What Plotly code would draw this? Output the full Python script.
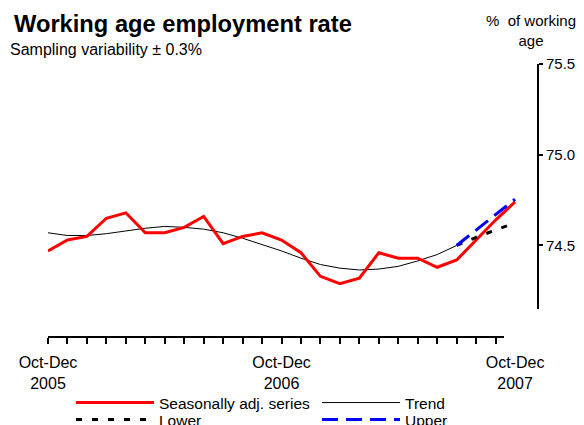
import plotly.graph_objects as go

# ---- data ----
tick_positions = [0, 12, 24]
tick_labels = ["Oct-Dec<br>2005", "Oct-Dec<br>2006", "Oct-Dec<br>2007"]

sa_x = list(range(0, 25))
sa_values = [74.47, 74.53, 74.55, 74.65, 74.68, 74.57, 74.57, 74.60, 74.66,
             74.51, 74.55, 74.57, 74.53, 74.46, 74.33, 74.29, 74.32, 74.46,
             74.43, 74.43, 74.38, 74.42, 74.53, 74.64, 74.74]

trend_x = list(range(0, 22))
trend_values = [74.57, 74.555, 74.555, 74.565, 74.58, 74.595, 74.605, 74.60,
                74.59, 74.57, 74.54, 74.505, 74.47, 74.43, 74.395, 74.375,
                74.365, 74.37, 74.385, 74.415, 74.45, 74.50]

band_x = [21, 22, 23, 24]
lower_values = [74.50, 74.545, 74.585, 74.625]
upper_values = [74.50, 74.585, 74.67, 74.755]

minor_tick_positions = list(range(0, 24))

FONT = "Liberation Sans, Arial, sans-serif"

# The page body has an 8px margin, so the figure is drawn 8px smaller and
# all reference (screen) pixel positions are shifted by OFF.
OFF = 8
W, H = 584 - OFF, 425 - OFF
L, R, T, B = 40, 47, 56, 88
PW = W - L - R
PH = H - T - B


def px(xs):
    return (xs - OFF - L) / PW


def py(ys):
    return (H - B - (ys - OFF)) / PH


fig = go.Figure()

fig.add_trace(go.Scatter(x=trend_x, y=trend_values, mode="lines", name="Trend",
                         line=dict(color="black", width=1), legendrank=2,
                         legend="legend"))
fig.add_trace(go.Scatter(x=sa_x, y=sa_values, mode="lines",
                         name="Seasonally adj. series",
                         line=dict(color="#FF0000", width=3), legendrank=1,
                         legend="legend"))
fig.add_trace(go.Scatter(x=band_x, y=lower_values, mode="lines", name="Lower",
                         line=dict(color="black", width=3, dash="6px,10px"),
                         legendrank=3, legend="legend2"))
fig.add_trace(go.Scatter(x=band_x, y=upper_values, mode="lines", name="Upper",
                         line=dict(color="#0000FF", width=3, dash="16px,8px"),
                         legendrank=4, legend="legend2"))
# carrier trace for the tick-mark axis
fig.add_trace(go.Scatter(x=[0], y=[None], xaxis="x2", yaxis="y", mode="lines",
                         showlegend=False, hoverinfo="skip"))

x_max = PW / 19.46
x2_dom = (504 - OFF - L) / PW

legend_common = dict(orientation="h", xanchor="left", yanchor="top",
                     entrywidth=153, entrywidthmode="pixels",
                     font=dict(size=15.5), itemwidth=78,
                     bgcolor="rgba(0,0,0,0)", tracegroupgap=0)

fig.update_layout(
    width=W, height=H,
    margin=dict(l=L, r=R, t=T, b=B, autoexpand=False),
    paper_bgcolor="white", plot_bgcolor="rgba(0,0,0,0)",
    font=dict(family=FONT, size=15, color="black"),
    showlegend=True,
    xaxis=dict(range=[0, x_max], domain=[0, 1], anchor="free", position=0,
               tickmode="array", tickvals=tick_positions, ticktext=tick_labels,
               ticks="", showline=False, showgrid=False, zeroline=False,
               ticklabelstandoff=14, tickfont=dict(size=16)),
    xaxis2=dict(range=[0, x_max * x2_dom], domain=[0, x2_dom], anchor="free",
                position=0, tickmode="array", tickvals=minor_tick_positions,
                ticks="outside", ticklen=6, tickwidth=2, tickcolor="black",
                showticklabels=False, showline=True, linewidth=2,
                linecolor="black", showgrid=False, zeroline=False),
    yaxis=dict(range=[74.15, 75.5], domain=[(H - B - (309 - OFF)) / PH, 1],
               side="right", anchor="x", tickmode="array",
               tickvals=[74.5, 75.0, 75.5], tickformat=".1f",
               ticks="outside", ticklen=4, tickwidth=2, tickcolor="black",
               showline=True, linewidth=2, linecolor="black",
               showgrid=False, zeroline=False, tickfont=dict(size=15),
               ticklabelstandoff=0),
    legend=dict(x=px(71), y=py(386), **legend_common),
    legend2=dict(x=px(71), y=py(403), **legend_common),
    annotations=[
        dict(text="<b>Working age employment rate</b>", xref="paper",
             yref="paper", x=px(12), y=py(23.5), xanchor="left",
             yanchor="middle", showarrow=False, font=dict(size=23.7)),
        dict(text="Sampling variability \u00b1 0.3%", xref="paper",
             yref="paper", x=px(8), y=py(50), xanchor="left",
             yanchor="middle", showarrow=False, font=dict(size=16)),
        dict(text="%\u00a0 of working<br>age", xref="paper", yref="paper",
             x=px(531), y=py(31), xanchor="center", yanchor="middle",
             align="center", showarrow=False, font=dict(size=15)),
    ],
)

fig.write_html("out.html")
